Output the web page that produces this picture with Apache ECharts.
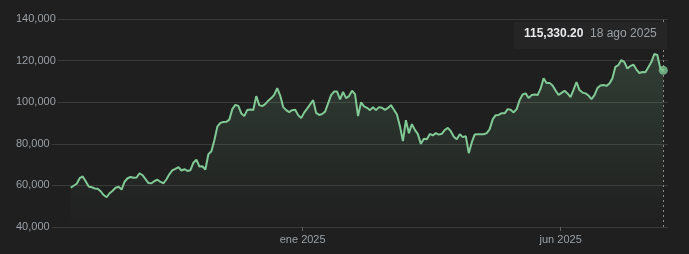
<!DOCTYPE html>
<html>
<head>
<meta charset="utf-8">
<script src="https://cdn.jsdelivr.net/npm/echarts@6/dist/echarts.min.js"></script>
<style>
html,body{margin:0;padding:0;background:#1f1f1f;}
#c{width:689px;height:254px;}
</style>
</head>
<body>
<div id="c"></div>
<script>
// Price observations (USD), oldest to newest
const prices = [
58971,59838,60801,63449,64316,62005,59453,59116,58538,58393,
57190,55360,54301,56227,57430,58875,59356,58008,61764,63449,
64027,63690,63786,65857,64894,62968,61138,61042,62101,62727,
61668,61042,62968,65471,67301,67927,68746,67157,67783,66964,
67301,70912,72357,69083,69227,67638,75005,76450,81746,88246,
90076,90461,90558,91617,96673,98695,98213,94602,93302,96287,
96528,96287,102933,98599,98117,99080,100717,101969,103558,106784,
103173,97636,96191,95228,96191,96336,93784,92339,94987,96913,
98936,101006,94891,93880,94361,95469,99417,103414,105099,105099,
101343,104954,101969,102933,105484,103895,93302,99899,97973,97299,
96191,97539,96191,97636,97347,96287,97250,98599,96384,94121,
88487,81265,91376,85117,89450,86706,84635,79965,82468,82228,
84731,84057,85117,84394,84828,86657,87669,86080,83431,82228,
84635,83191,83672,75487,80639,84491,84539,84587,84587,85117,
87043,91761,93784,93880,94698,94650,96673,96384,95084,96673,
101006,103702,104232,102017,103414,103702,103414,106495,111455,109192,
109288,107988,105628,103510,104473,105532,104232,102451,105917,109721,
105821,104617,104232,103221,101488,103414,106784,107988,108229,107843,
108999,111455,117040,117859,120266,119303,116173,117377,118099,115836,
114007,114488,114440,116799,119303,123155,122674,116270,115330.20
];
const lastDate = '18 ago 2025';
const monthLabels = ['ene 2025', 'jun 2025'];
const monthIndex = [77.5, 163.7];
const yTicks = [40000, 60000, 80000, 100000, 120000, 140000];

const chart = echarts.init(document.getElementById('c'), null, {renderer: 'canvas'});
const lastI = prices.length - 1;
const lastV = prices[lastI];
const fmt = v => Number(v).toLocaleString('en-US');
const fmt2 = v => Number(v).toLocaleString('en-US', {minimumFractionDigits: 2, maximumFractionDigits: 2});

chart.setOption({
  backgroundColor: '#1f1f1f',
  animation: false,
  textStyle: {fontFamily: 'Arial, "Liberation Sans", sans-serif'},
  grid: {left: 16, right: 21, top: 19, bottom: 27, containLabel: false},
  xAxis: {
    type: 'value',
    min: -18.28,
    max: 199.57,
    splitLine: {show: false},
    axisLine: {show: false},
    axisTick: {show: true, customValues: monthIndex, length: 4, lineStyle: {color: '#5f6368'}},
    axisLabel: {
      customValues: monthIndex,
      color: '#9aa0a6', fontSize: 11, margin: 7,
      formatter: v => { const k = monthIndex.indexOf(v); return k >= 0 ? monthLabels[k] : ''; }
    }
  },
  yAxis: {
    type: 'value',
    min: yTicks[0], max: yTicks[yTicks.length - 1], interval: 20000,
    axisLine: {show: false},
    axisTick: {show: false},
    splitLine: {lineStyle: {color: '#3a3a3a', width: 1}},
    axisLabel: {
      inside: true, margin: 0, color: '#9aa0a6', fontSize: 11,
      backgroundColor: '#1f1f1f', padding: [0, 2, 0, 0],
      formatter: v => fmt(v)
    }
  },
  series: [
    {
      type: 'line',
      data: prices.map((v, i) => [i, v]),
      showSymbol: false,
      lineStyle: {color: '#81c995', width: 2},
      areaStyle: {
        color: new echarts.graphic.LinearGradient(0, 0, 0, 1, [
          {offset: 0, color: 'rgba(129,201,149,0.26)'},
          {offset: 1, color: 'rgba(129,201,149,0.0)'}
        ])
      },
      markLine: {
        silent: true, symbol: 'none', animation: false,
        label: {show: false},
        lineStyle: {type: [2, 3], color: '#8a8a8a', width: 1},
        data: [{xAxis: lastI}]
      },
      z: 3
    },
    {
      type: 'scatter',
      data: [[lastI, lastV]],
      symbolSize: 9,
      itemStyle: {color: '#81c995'},
      z: 5
    }
  ],
  graphic: [
    {type: 'rect', left: 514, top: 22, shape: {width: 153, height: 27}, style: {fill: '#252525'}, z: 10},
    {type: 'text', left: 524, top: 28, z: 11,
      style: {text: fmt2(lastV), fill: '#e8eaed', font: 'bold 12px Arial, "Liberation Sans", sans-serif'}},
    {type: 'text', left: 590, top: 28, z: 11,
      style: {text: lastDate, fill: '#9aa0a6', font: '12px Arial, "Liberation Sans", sans-serif'}}
  ]
});
</script>
</body>
</html>
